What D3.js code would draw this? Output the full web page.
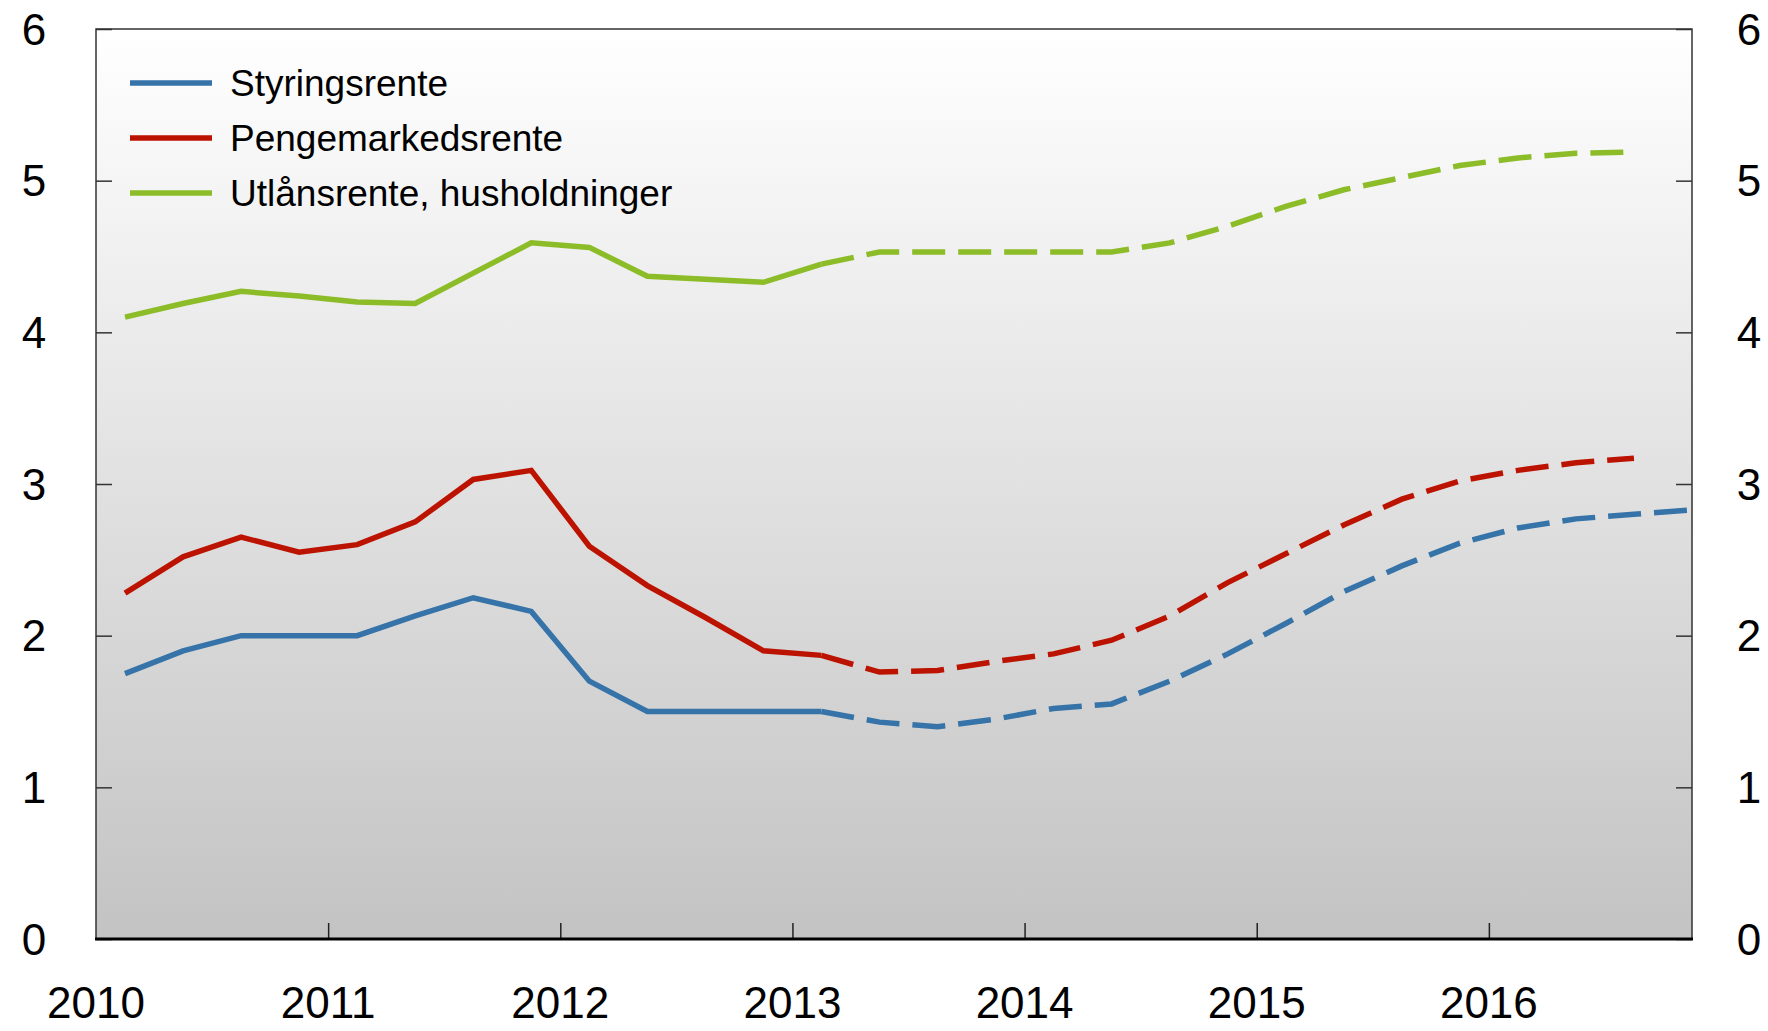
<!DOCTYPE html>
<html>
<head>
<meta charset="utf-8">
<script src="https://cdn.jsdelivr.net/npm/d3@7"></script>
<style>
  html, body { margin: 0; padding: 0; background: #ffffff; }
  svg { display: block; font-family: "Liberation Sans", Arial, Helvetica, sans-serif; }
</style>
</head>
<body>
<svg width="1768" height="1031"></svg>
<script>
// Quarterly series, 2010 Q1 to 2016 Q4 (prognosis dashed from 2013 Q1)
const startYear = 2010;
const forecastStart = 12; // index of 2013 Q1

const styringsrente = [1.75, 1.90, 2.00, 2.00, 2.00, 2.13, 2.25, 2.16, 1.70, 1.50, 1.50, 1.50, 1.50,
  1.43, 1.40, 1.45, 1.52, 1.55, 1.70, 1.88, 2.08, 2.29, 2.46, 2.61, 2.71, 2.77, 2.80, 2.83];
const pengemarkedsrente = [2.28, 2.52, 2.65, 2.55, 2.60, 2.75, 3.03, 3.09, 2.59, 2.33, 2.12, 1.90, 1.87,
  1.76, 1.77, 1.83, 1.88, 1.97, 2.13, 2.35, 2.54, 2.73, 2.90, 3.02, 3.09, 3.14, 3.17];
const utlansrente = [4.10, 4.19, 4.27, 4.24, 4.20, 4.19, 4.39, 4.59, 4.56, 4.37, 4.35, 4.33, 4.45,
  4.53, 4.53, 4.53, 4.53, 4.53, 4.59, 4.70, 4.83, 4.94, 5.02, 5.10, 5.15, 5.18, 5.19];

const seriesNames = ['Styringsrente', 'Pengemarkedsrente', 'Utlånsrente, husholdninger'];
const seriesColors = ['#3573a8', '#bc1300', '#8dbc29'];
const yTicks = [0, 1, 2, 3, 4, 5, 6];
const xTicks = [2010, 2011, 2012, 2013, 2014, 2015, 2016];

const svg = d3.select('svg');

const margin = { left: 96, right: 76, top: 29, bottom: 92 };
const width = +svg.attr('width');
const height = +svg.attr('height');
const x0 = margin.left, x1 = width - margin.right;
const y0 = height - margin.bottom, y1 = margin.top;

// quarter midpoints as decimal years
const quarterX = i => startYear + (i + 0.5) / 4;

const x = d3.scaleLinear().domain([2010, 2016.875]).range([x0, x1]);
const y = d3.scaleLinear().domain([0, 6]).range([y0, y1]);

// background gradient
const defs = svg.append('defs');
const grad = defs.append('linearGradient')
  .attr('id', 'bg').attr('x1', 0).attr('y1', 0).attr('x2', 0).attr('y2', 1);
grad.append('stop').attr('offset', '0%').attr('stop-color', '#ffffff');
grad.append('stop').attr('offset', '100%').attr('stop-color', '#c3c3c3');

svg.append('rect')
  .attr('x', x0).attr('y', y1)
  .attr('width', x1 - x0).attr('height', y0 - y1)
  .attr('fill', 'url(#bg)');

// axes with inward ticks
const fontSize = 44;

svg.append('g')
  .attr('transform', `translate(${x0},0)`)
  .call(d3.axisRight(y).tickValues(yTicks).tickSize(16).tickFormat(''))
  .call(g => g.select('.domain').remove())
  .call(g => g.selectAll('line').attr('stroke', '#333').attr('stroke-width', 1.5));

svg.append('g')
  .attr('transform', `translate(${x1},0)`)
  .call(d3.axisLeft(y).tickValues(yTicks).tickSize(16).tickFormat(''))
  .call(g => g.select('.domain').remove())
  .call(g => g.selectAll('line').attr('stroke', '#333').attr('stroke-width', 1.5));

svg.append('g')
  .attr('transform', `translate(0,${y0})`)
  .call(d3.axisTop(x).tickValues(xTicks.slice(1)).tickSize(16).tickFormat(''))
  .call(g => g.select('.domain').remove())
  .call(g => g.selectAll('line').attr('stroke', '#222').attr('stroke-width', 1.5));

// frame
svg.append('path')
  .attr('d', `M${x0},${y0}V${y1}H${x1}V${y0}`)
  .attr('fill', 'none').attr('stroke', '#333').attr('stroke-width', 1.5);
svg.append('line')
  .attr('x1', x0 - 1).attr('x2', x1 + 1).attr('y1', y0).attr('y2', y0)
  .attr('stroke', '#000').attr('stroke-width', 3);

// tick labels
svg.append('g').selectAll('text').data(yTicks).join('text')
  .attr('x', 34).attr('y', d => y(d) + 15.5)
  .attr('text-anchor', 'middle').attr('font-size', fontSize)
  .text(d => d);

svg.append('g').selectAll('text').data(yTicks).join('text')
  .attr('x', 1749).attr('y', d => y(d) + 15.5)
  .attr('text-anchor', 'middle').attr('font-size', fontSize)
  .text(d => d);

svg.append('g').selectAll('text').data(xTicks).join('text')
  .attr('x', d => x(d)).attr('y', 1018)
  .attr('text-anchor', 'middle').attr('font-size', fontSize)
  .text(d => d);

// lines
const line = d3.line()
  .x(d => x(d.t))
  .y(d => y(d.v));

const allSeries = [styringsrente, pengemarkedsrente, utlansrente];
const plot = svg.append('g');

allSeries.forEach((values, k) => {
  const pts = values.map((v, i) => ({ t: quarterX(i), v }));
  plot.append('path')
    .datum(pts.slice(0, forecastStart + 1))
    .attr('d', line)
    .attr('fill', 'none')
    .attr('stroke', seriesColors[k])
    .attr('stroke-width', 5.5)
    .attr('stroke-linejoin', 'miter');
  plot.append('path')
    .datum(pts.slice(forecastStart))
    .attr('d', line)
    .attr('fill', 'none')
    .attr('stroke', seriesColors[k])
    .attr('stroke-width', 5.5)
    .attr('stroke-dasharray', '33,13');
});

// legend
const legend = svg.append('g');
seriesNames.forEach((name, k) => {
  const ly = 83 + k * 55;
  legend.append('line')
    .attr('x1', 130).attr('x2', 212).attr('y1', ly).attr('y2', ly)
    .attr('stroke', seriesColors[k]).attr('stroke-width', 5.5);
  legend.append('text')
    .attr('x', 230).attr('y', ly + 13)
    .attr('font-size', 37)
    .text(name);
});
</script>
</body>
</html>
